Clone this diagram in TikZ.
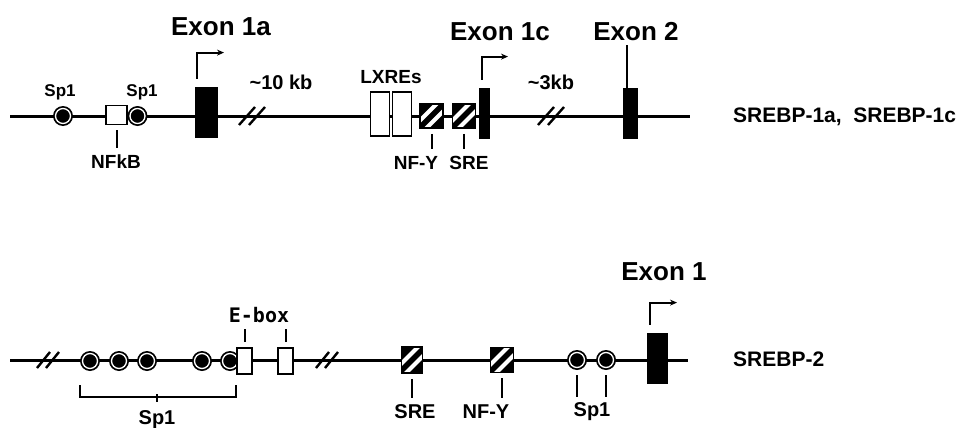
\documentclass[tikz,border=0pt]{standalone}
\usepackage{fontspec}
\setmainfont{Liberation Sans}
\newfontfamily\monofont{DejaVu Sans Mono}
\usetikzlibrary{arrows.meta}
\tikzset{
  dna/.style={line width=3pt},
  tick/.style={line width=2pt},
  thin tick/.style={line width=1.5pt},
  brk/.style={line width=2.4pt},
  exonbox/.style={draw, fill=black, line width=0.8pt, inner sep=0pt, minimum height=50pt},
  lxrbox/.style={draw, fill=white, line width=1.7pt, inner sep=0pt, minimum width=19pt, minimum height=44pt},
  smallbox/.style={draw, fill=white, line width=1.7pt, inner sep=0pt},
  hatchbox/.style={draw, line width=1.7pt, inner sep=0pt, minimum width=23pt, minimum height=24pt,
    path picture={
      \fill[black] (path picture bounding box.south west) rectangle (path picture bounding box.north east);
      \foreach \s in {-7,7}{
        \draw[white, line width=4.2pt] ([xshift=\s pt]path picture bounding box.center) ++(-20pt,-20pt) -- ++(40pt,40pt);
      }
    }},
  spone/.style={circle, fill=black, inner sep=0pt, minimum size=20pt,
    path picture={\draw[white, line width=1.3pt] (path picture bounding box.center) circle (7.5pt);}},
  exonlab/.style={font=\bfseries\fontsize{26}{26}\selectfont, inner sep=0pt},
  lab/.style={font=\bfseries\fontsize{19}{19}\selectfont, inner sep=0pt},
  blab/.style={font=\bfseries\fontsize{20}{20}\selectfont, inner sep=0pt},
  genelab/.style={font=\bfseries\fontsize{21}{21}\selectfont, inner sep=0pt, anchor=west},
  tss/.style={tick, -{Stealth[length=7pt,width=6pt]}},
}
\begin{document}
\begin{tikzpicture}[x=1pt,y=-1pt]
\useasboundingbox (0,0) rectangle (974,428);

% ---------- top gene ----------
\coordinate (tA) at (10,116);
\coordinate (tB) at (690,116);
\draw[dna] (tA) -- (tB);

% breaks
\coordinate (br1) at (252,116);
\coordinate (br2) at (551,116);
\foreach \c in {br1,br2}{
  \draw[brk] ([xshift=-13pt,yshift=-9pt]\c) -- ([xshift=3pt,yshift=9pt]\c);
  \draw[brk] ([xshift=-3pt,yshift=-9pt]\c) -- ([xshift=13pt,yshift=9pt]\c);
}

\node[spone] (tsp1) at (63,116) {};
\node[smallbox, minimum width=21pt, minimum height=19pt] (nfkb) at (116.5,115) {};
\node[spone] (tsp2) at (137.5,116) {};
\node[lab, font=\bfseries\fontsize{17}{17}\selectfont] (tsp1l) at (60,92) {Sp1};
\node[lab, font=\bfseries\fontsize{17}{17}\selectfont] (tsp2l) at (142,92) {Sp1};
\node[lab] (nfkbl) at (116,162) {NFkB};
\draw[tick, shorten <=5pt, shorten >=7pt] (nfkb.south) -- (nfkb.south |- nfkbl.north);

\node[exonbox, minimum width=22pt] (ex1a) at (206,112) {};
\draw[tss] ([xshift=-9pt,yshift=8pt]ex1a.north) -- ++(0pt,26pt) -- ++(27pt,0pt);
\node[exonlab] (ex1al) at (221,27) {Exon 1a};
\node[blab] (kb10) at (281,82) {\textasciitilde10 kb};

\node[lxrbox] (lx1) at (380,114) {};
\node[lxrbox] (lx2) at (402,114) {};
\node[lab] (lxl) at (391,77) {LXREs};

\node[hatchbox] (tnfy) at (431.5,116) {};
\node[hatchbox] (tsre) at (464,116) {};
\node[lab] (tnfyl) at (416,163) {NF-Y};
\node[lab] (tsrel) at (469,163) {SRE};
\draw[tick, shorten <=5pt, shorten >=7pt] (tnfy.south) -- (tnfy.south |- tnfyl.north);
\draw[tick, shorten <=5pt, shorten >=7pt] (tsre.south) -- (tsre.south |- tsrel.north);

\node[exonbox, minimum width=10pt] (ex1c) at (484,113) {};
\draw[tss] ([xshift=-2pt,yshift=8pt]ex1c.north) -- ++(0pt,23pt) -- ++(26pt,0pt);
\node[exonlab] (ex1cl) at (500,32) {Exon 1c};
\node[blab] (kb3) at (551,82) {\textasciitilde3kb};

\node[exonbox, minimum width=14pt] (ex2) at (630,113) {};
\node[exonlab] (ex2l) at (636,32) {Exon 2};
\draw[tick, shorten >=4pt] ([xshift=-3pt]ex2.north) -- ([xshift=-3pt]ex2.north |- ex2l.south);

\node[genelab] (g1) at (733,117) {SREBP-1a,\ \ SREBP-1c};

% ---------- bottom gene ----------
\coordinate (bA) at (10,360);
\coordinate (bB) at (688,360);
\draw[dna] (bA) -- (bB);

\coordinate (br3) at (48,360);
\coordinate (br4) at (327,360);
\foreach \c in {br3,br4}{
  \draw[brk] ([xshift=-11pt,yshift=-8pt]\c) -- ([xshift=2pt,yshift=8pt]\c);
  \draw[brk] ([xshift=-2pt,yshift=-8pt]\c) -- ([xshift=11pt,yshift=8pt]\c);
}

\node[spone] (b1) at (90,361) {};
\node[spone] (b2) at (119,361) {};
\node[spone] (b3) at (147,361) {};
\node[spone] (b4) at (202,361) {};
\node[spone] (b5) at (230,361) {};
\node[smallbox, minimum width=15pt, minimum height=26pt] (eb1) at (244.5,361) {};
\node[smallbox, minimum width=15pt, minimum height=26pt] (eb2) at (285.5,361) {};
\node[inner sep=0pt, font=\monofont\bfseries\fontsize{20}{20}\selectfont] (ebl) at (259,315) {E-box};
\draw[tick, shorten <=5pt, shorten >=6pt] (eb1.north) -- (eb1.north |- ebl.south);
\draw[tick, shorten <=5pt, shorten >=6pt] (eb2.north) -- (eb2.north |- ebl.south);

\node[blab] (bspl) at (157,420) {Sp1};
\draw[thin tick] ([yshift=-24pt]b1.west) -- ([yshift=-36pt]b1.west) -| ([yshift=-24pt]eb1.west);
\draw[thin tick] ([yshift=9pt]bspl.north) -- ([yshift=17pt]bspl.north);

\node[hatchbox, minimum width=21pt, minimum height=26pt] (bsre) at (412,360) {};
\node[hatchbox, minimum width=23pt, minimum height=25pt] (bnfy) at (502,360) {};
\node[blab] (bsrel) at (415,412) {SRE};
\node[blab] (bnfyl) at (486,412) {NF-Y};
\draw[tick, shorten <=5pt, shorten >=7pt] (bsre.south) -- (bsre.south |- bsrel.north);
\draw[tick, shorten <=5pt, shorten >=7pt] (bnfy.south) -- (bnfy.south |- bnfyl.north);

\node[spone] (b6) at (577,360) {};
\node[spone] (b7) at (606,360) {};
\node[blab] (bsp2l) at (592,412) {Sp1};
\draw[tick, shorten <=5pt, shorten >=6pt] (b6.south) -- (b6.south |- bsp2l.north);
\draw[tick, shorten <=5pt, shorten >=6pt] (b7.south) -- (b7.south |- bsp2l.north);

\node[exonbox, minimum width=20pt] (ex1) at (657,358) {};
\draw[tss] ([xshift=-7pt,yshift=8pt]ex1.north) -- ++(0pt,22pt) -- ++(27pt,0pt);
\node[exonlab] (ex1l) at (664,272) {Exon 1};

\node[genelab] (g2) at (733,359) {SREBP-2};
\end{tikzpicture}
\end{document}
